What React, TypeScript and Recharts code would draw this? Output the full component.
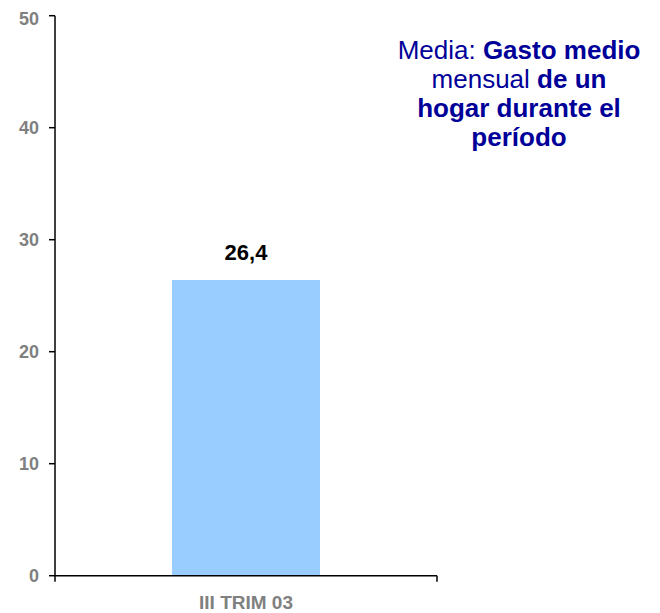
import React from "react";
import {Bar, BarChart, LabelList, XAxis, YAxis} from "recharts";

const categories = ["III TRIM 03"];
const values = [26.4];
const yTicks = [0, 10, 20, 30, 40, 50];
const noteLines = [
    [{t: "Media: ", b: false}, {t: "Gasto medio", b: true}],
    [{t: "mensual ", b: false}, {t: "de un", b: true}],
    [{t: "hogar durante el", b: true}],
    [{t: "período", b: true}],
];

const data = categories.map((name, i) => ({name, value: values[i]}));

const FONT = "'Liberation Sans', Arial, sans-serif";

const CategoryTick = (props: any) => {
    const {x, y, payload} = props;
    const half = payload?.offset ?? 0;
    return (
        <g>
            <line x1={x - half} y1={y} x2={x - half} y2={y + 6} stroke="#000" strokeWidth={1.5}/>
            <line x1={x + half} y1={y} x2={x + half} y2={y + 6} stroke="#000" strokeWidth={1.5}/>
            <text x={x} y={y + 33} textAnchor="middle" fill="#808080" fontWeight="bold" fontSize={19}
                  fontFamily={FONT}>
                {payload.value}
            </text>
        </g>
    );
};

const App: React.FC = () => {
    return (
        <div style={{position: "relative", width: 652, height: 605}}>
            <BarChart width={652} height={605} data={data}
                      margin={{top: 7.7, right: 223, bottom: 0, left: 0}}>
                <XAxis dataKey="name" height={37.3} tickLine={false} tickSize={0} tickMargin={0}
                       stroke="#000" strokeWidth={1.5} tick={<CategoryTick/>} interval={0}/>
                <YAxis width={47} domain={[0, 50]} ticks={yTicks} tickSize={6} tickMargin={10}
                       stroke="#000" strokeWidth={1.5}
                       tick={{fill: "#808080", fontWeight: "bold", fontSize: 18, fontFamily: FONT}}/>
                <Bar dataKey="value" fill="#99CCFF" barSize={148} isAnimationActive={false}>
                    <LabelList dataKey="value" position="top" offset={20}
                               formatter={(v: any) => String(v).replace(".", ",")}
                               style={{fill: "#000", fontWeight: "bold", fontSize: 22, fontFamily: FONT}}/>
                </Bar>
            </BarChart>
            <div style={{
                position: "absolute", left: 371, top: 28, width: 280, textAlign: "center",
                color: "#000099", fontFamily: FONT, fontSize: 26, lineHeight: "29px"
            }}>
                {noteLines.map((line, i) => (
                    <div key={i}>
                        {line.map((p, j) => p.b ? <b key={j}>{p.t}</b> : <span key={j}>{p.t}</span>)}
                    </div>
                ))}
            </div>
        </div>
    );
};

export default App;
